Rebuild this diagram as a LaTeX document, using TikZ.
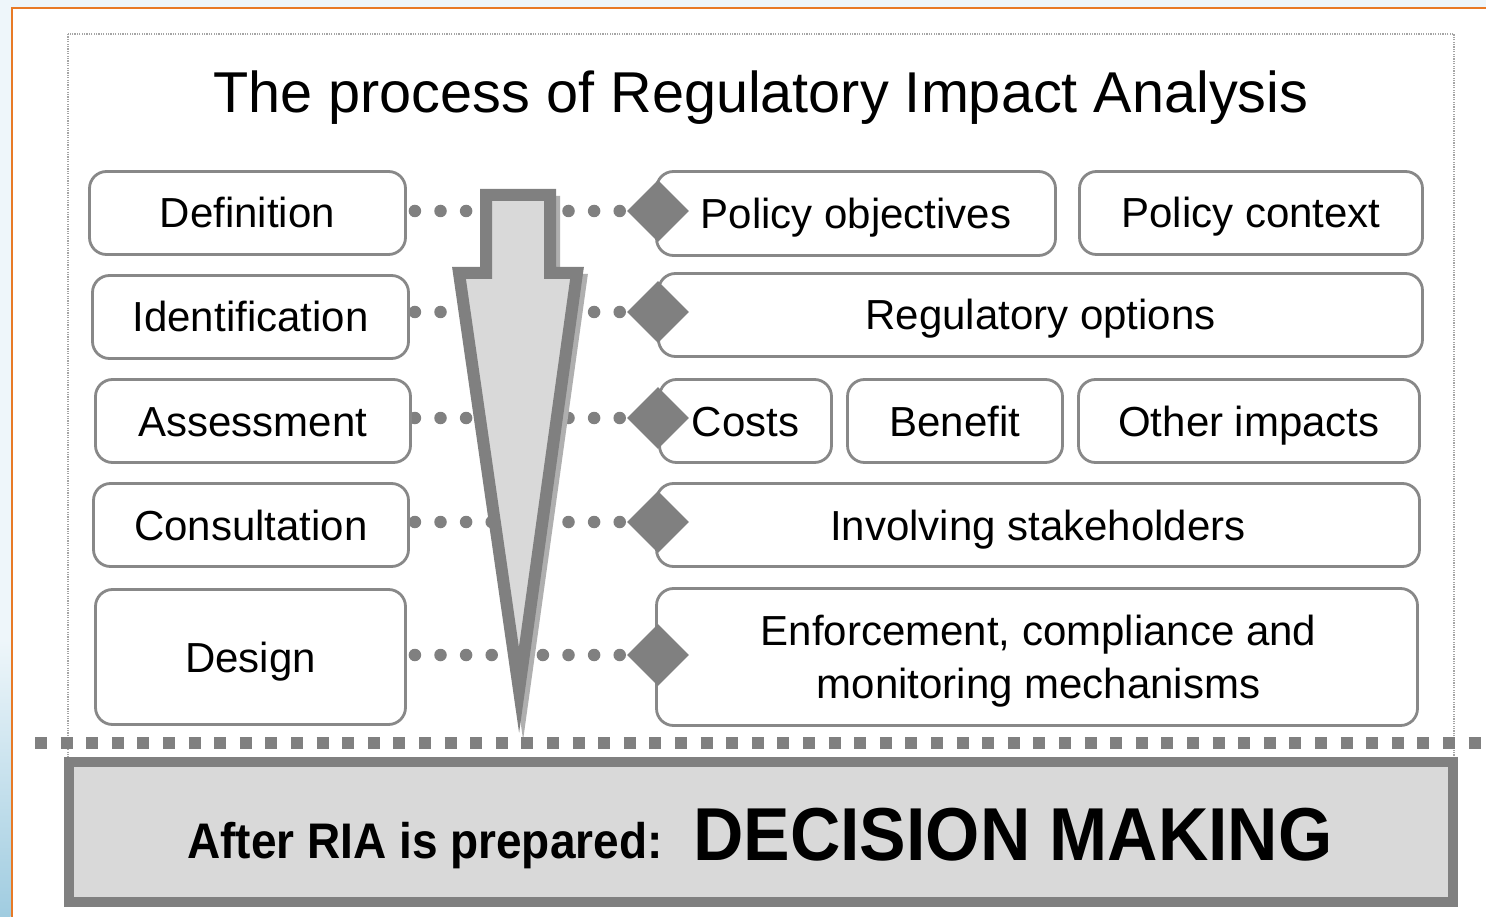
\documentclass[tikz,border=0pt]{standalone}
\usepackage{fontspec}
\setmainfont{Liberation Sans}
\usetikzlibrary{shapes.geometric}
\definecolor{lineg}{RGB}{128,128,128}
\definecolor{boxg}{RGB}{136,136,136}
\definecolor{fillg}{RGB}{217,217,217}
\definecolor{shadg}{RGB}{175,175,175}
\definecolor{orangeframe}{RGB}{232,122,38}
\definecolor{bgblue}{RGB}{238,246,250}
\definecolor{deepblue}{RGB}{160,204,224}
\definecolor{dotrect}{RGB}{165,165,165}
\pgfdeclarelayer{back}
\pgfdeclarelayer{mid}
\pgfsetlayers{back,mid,main}
\tikzset{
  box/.style={draw=boxg, line width=2.8pt, rounded corners=17pt, fill=white,
    inner sep=0pt, font=\fontsize{42}{50}\selectfont, text height=30pt, text depth=0pt},
  dia/.style={shape=diamond, fill=lineg, draw=none, minimum width=62pt,
    minimum height=62pt, inner sep=0pt},
  dotline/.style={draw=lineg, line width=12.5pt, line cap=round,
    dash pattern=on 0pt off 25.6pt},
  txt/.style={inner sep=0pt, font=\fontsize{42}{50}\selectfont},
  arrowshape/.style={line width=12pt},
}
\begin{document}
\begin{tikzpicture}[x=1pt,y=-1pt]
\useasboundingbox (0,0) rectangle (1486,917);
\begin{pgfonlayer}{back}
  \fill[bgblue] (0,0) rectangle (1486,917);
  \fill[white] (11,7) rectangle (1486,917);
  \shade[top color=bgblue, bottom color=deepblue] (0,640) rectangle (10.5,917);
  \draw[orangeframe, line width=2.6pt] (12,917) -- (12,8) -- (1486,8);
  \draw[dotrect, line width=1.2pt, dash pattern=on 1.2pt off 1.2pt] (68,34) rectangle (1454,765);
\end{pgfonlayer}

% title
\node[anchor=base, inner sep=0pt, font=\fontsize{57.6}{68}\selectfont] (title) at (761,113)
  {The process of Regulatory Impact Analysis};

% left column
\node[box, minimum width=316pt, minimum height=83pt] (def) at (247.5,213) {Definition};
\node[box, minimum width=316pt, minimum height=83pt] (ident) at (250.5,317) {Identification};
\node[box, minimum width=315pt, minimum height=83pt] (assess) at (253,421) {Assessment};
\node[box, minimum width=315pt, minimum height=83pt] (consult) at (251,525) {Consultation};
\node[box, minimum width=310pt, minimum height=135pt] (design) at (250.5,657) {Design};

% right column
\node[box, minimum width=399pt, minimum height=84pt] (pobj) at (856,213.5) {Policy objectives};
\node[box, minimum width=343pt, minimum height=83pt] (pctx) at (1251,213) {Policy context};
\node[box, minimum width=764pt, minimum height=83pt] (regopt) at (1040.5,315) {Regulatory options};
\node[box, minimum width=172pt, minimum height=83pt] (costs) at (745.5,421) {Costs};
\node[box, minimum width=215pt, minimum height=83pt] (benefit) at (955,421) {Benefit};
\node[box, minimum width=341pt, minimum height=83pt] (other) at (1249,421) {Other impacts};
\node[box, minimum width=763pt, minimum height=83pt] (involve) at (1038,525) {Involving stakeholders};
\node[box, minimum width=761pt, minimum height=137pt] (enforce) at (1037,657) {};
\node[txt, anchor=base] (enf1) at (1038.5,645) {Enforcement, compliance and};
\node[txt, anchor=base] (enf2) at (1038.5,698) {monitoring mechanisms};

% diamonds
\node[dia] (dia1) at (658,211) {};
\node[dia] (dia2) at (658,312) {};
\node[dia] (dia3) at (658,418) {};
\node[dia] (dia4) at (658,522) {};
\node[dia] (dia5) at (658,655) {};

% dotted connectors
\begin{pgfonlayer}{mid}
  \draw[dotline, shorten <=8pt] (def.east |- dia1) -- (dia1.west);
  \draw[dotline, shorten <=5pt] (ident.east |- dia2) -- (dia2.west);
  \draw[dotline, shorten <=3pt] (assess.east |- dia3) -- (dia3.west);
  \draw[dotline, shorten <=5pt] (consult.east |- dia4) -- (dia4.west);
  \draw[dotline, shorten <=8pt] (design.east |- dia5) -- (dia5.west);
\end{pgfonlayer}

% big arrow
\draw[arrowshape, draw=shadg, fill=shadg, shift={(4,7)}]
  (486,195) -- (550,195) -- (550,273) -- (577,273) -- (519,690) -- (459,273) -- (486,273) -- cycle;
\draw[arrowshape, draw=lineg, fill=fillg]
  (486,195) -- (550,195) -- (550,273) -- (577,273) -- (519,690) -- (459,273) -- (486,273) -- cycle;

% separator
\draw[lineg, line width=12pt, dash pattern=on 12pt off 13.6pt] (35,743) -- (1486,743);

% decision box
\node[draw=lineg, line width=10pt, fill=fillg, minimum width=1384pt, minimum height=140pt,
  inner sep=0pt] (decision) at (761,832) {};
\node[anchor=base west, inner sep=0pt, font=\bfseries\fontsize{50}{60}\selectfont] (after)
  at (187,858) {\scalebox{0.92}[1]{After RIA is prepared:}};
\node[anchor=base west, inner sep=0pt, font=\bfseries\fontsize{75}{90}\selectfont] (dm)
  at (693,860) {\scalebox{0.93}[1]{DECISION MAKING}};
\end{tikzpicture}
\end{document}
